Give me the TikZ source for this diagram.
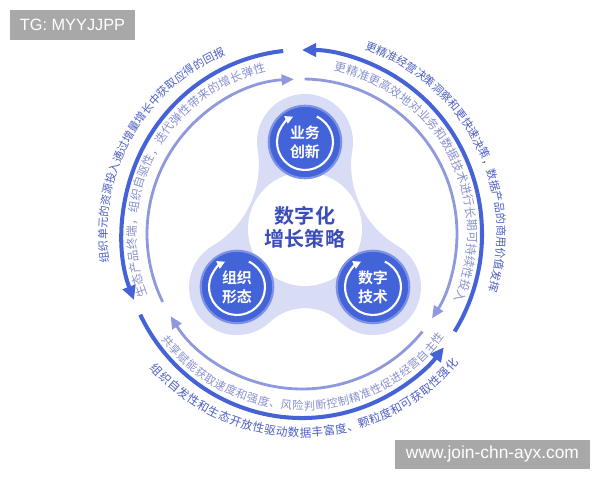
\documentclass[tikz,border=0pt]{standalone}
\usepackage{fontspec}
\setmainfont{Noto Sans CJK SC}[BoldFont={Noto Sans CJK SC Bold}]
\newfontfamily\wmfont{Liberation Sans}
\usetikzlibrary{arrows.meta,decorations.text}

\definecolor{outblue}{HTML}{4562D6}
\definecolor{outtext}{HTML}{4C5EC4}
\definecolor{inblue}{HTML}{8F99DD}
\definecolor{intext}{HTML}{8790CF}
\definecolor{lobe}{HTML}{D8DCF4}
\definecolor{disc}{HTML}{4363D8}
\definecolor{discrim}{HTML}{7D92E6}
\definecolor{midtext}{HTML}{3A4DB8}
\definecolor{wmgray}{HTML}{A8A8A8}

\pgfdeclareradialshading{glow}{\pgfpointorigin}{color(0bp)=(white); color(28bp)=(white); color(47bp)=(lobe); color(50bp)=(lobe)}

\tikzstyle{outarc} = [-{Triangle[length=8pt,width=7.5pt]},style={line width=2.3pt,draw=outblue}]
\tikzstyle{inarc} = [-{Triangle[length=7pt,width=6pt]},style={line width=1.6pt,draw=inblue}]
\tikzstyle{turn} = [-{Triangle[length=4.5pt,width=4.5pt]},style={line width=1.2pt,draw=white}]
\tikzstyle{hub} = [circle,minimum size=1.45cm,inner sep=0pt,style={fill=disc,draw=discrim,line width=1.2pt},text=white,align=center,font=\bfseries\fontsize{8.5}{10.8}\selectfont]
\tikzstyle{wmbox} = [rectangle,inner sep=0pt,fill=wmgray,text=white,font=\wmfont]

\begin{document}
\begin{tikzpicture}[x=0.02cm, y=0.02cm]
\useasboundingbox (-302,-246) rectangle (298,234);

% Trefoil body
	\coordinate (T) at (3,92);
	\fill[lobe] ([shift={(-9.3:48)}]T) arc[start angle=-9.3, end angle=189.3, radius=48]
		arc[start angle=9.3, end angle=-59.5, radius=93.8]
		arc[start angle=120.5, end angle=313.3, radius=48]
		arc[start angle=133.3, end angle=46.7, radius=51.1]
		arc[start angle=226.7, end angle=419.5, radius=48]
		arc[start angle=239.5, end angle=170.7, radius=93.8] -- cycle;
	\shade[shading=glow] (3,5) circle (57);

% Hubs
	\node[hub] at (3,92) (biz) {业务\\创新};
	\node[hub] at (-65,-53) (org) {组织\\形态};
	\node[hub] at (71,-53) (tech) {数字\\技术};
	\draw[turn] ([shift={(65:28)}]biz.center) arc[start angle=65, end angle=-245, radius=28];
	\draw[turn] ([shift={(65:28)}]org.center) arc[start angle=65, end angle=-245, radius=28];
	\draw[turn] ([shift={(65:28)}]tech.center) arc[start angle=65, end angle=-245, radius=28];
	\node[text=midtext,align=center,font=\bfseries\fontsize{11.4}{13}\selectfont] at (3,7) (core) {数字化\\增长策略};

% Outer ring
	\coordinate (oR) at (-32:180 and 184);
	\coordinate (oL) at (96:180 and 184);
	\coordinate (oB) at (206:180 and 184);
	\draw[outarc] (oR) arc[start angle=-32, end angle=90, x radius=180, y radius=184];
	\draw[outarc] (oL) arc[start angle=96, end angle=201, x radius=180, y radius=184];
	\draw[outarc] (oB) arc[start angle=206, end angle=322, x radius=180, y radius=184];

% Inner ring
	\coordinate (iL) at (206:155);
	\coordinate (iR) at (89:155);
	\coordinate (iB) at (-39:155);
	\draw[inarc] (iL) arc[start angle=206, end angle=93, radius=155];
	\draw[inarc] (iR) arc[start angle=89, end angle=-33, radius=155];
	\draw[inarc] (iB) arc[start angle=-39, end angle=-148, radius=155];

% Outer labels
	\coordinate (tR) at (71.3:195);
	\coordinate (tL) at (188.3:195);
	\coordinate (tB) at (221.5:203);
	\path[decorate,decoration={text along path,text align={fit to path},text color=outtext,
		text={|\fontsize{6.3}{7}\selectfont|更精准经营决策洞察和更快速决策，数据产品的商用价值发挥}}]
		(tR) arc[start angle=71.3, end angle=-16.9, radius=195];
	\path[decorate,decoration={text along path,text align={fit to path},text color=outtext,
		text={|\fontsize{6.3}{7}\selectfont|组织单元的资源投入通过增量增长中获取应得的回报}}]
		(tL) arc[start angle=188.3, end angle=113.1, radius=195];
	\path[decorate,decoration={text along path,text align={fit to path},text color=outtext,
		text={|\fontsize{6.6}{7}\selectfont|组织自发性和生态开放性驱动数据丰富度、颗粒度和可获取性强化}}]
		(tB) arc[start angle=221.5, end angle=320.5, radius=203];

% Inner labels
	\coordinate (sR) at (79:166);
	\coordinate (sL) at (201.8:166);
	\coordinate (sB) at (216.9:176);
	\path[decorate,decoration={text along path,text align={fit to path},text color=intext,
		text={|\fontsize{6.7}{7}\selectfont|更精准更高效地对业务和数据技术进行长期可持续性投入}}]
		(sR) arc[start angle=79, end angle=-23.7, radius=166];
	\path[decorate,decoration={text along path,text align={fit to path},text color=intext,
		text={|\fontsize{6.7}{7}\selectfont|生态产品终端，组织自驱性，迭代弹性带来的增长弹性}}]
		(sL) arc[start angle=201.8, end angle=102.5, radius=166];
	\path[decorate,decoration={text along path,text align={fit to path},text color=intext,
		text={|\fontsize{6.4}{7}\selectfont|共享赋能获取速度和强度、风险判断控制精准性促进经营自主性}}]
		(sB) arc[start angle=216.9, end angle=324.2, radius=176];

% Watermarks
	\node[wmbox,minimum width=2.5cm,minimum height=0.6cm,font=\wmfont\fontsize{9.3}{11}\selectfont] at (-229.5,209) (tg) {TG: MYYJJPP};
	\node[wmbox,minimum width=3.9cm,minimum height=0.58cm,font=\wmfont\fontsize{9.9}{11}\selectfont] at (190.5,-220.5) (www) {www.join-chn-ayx.com};

\end{tikzpicture}
\end{document}
